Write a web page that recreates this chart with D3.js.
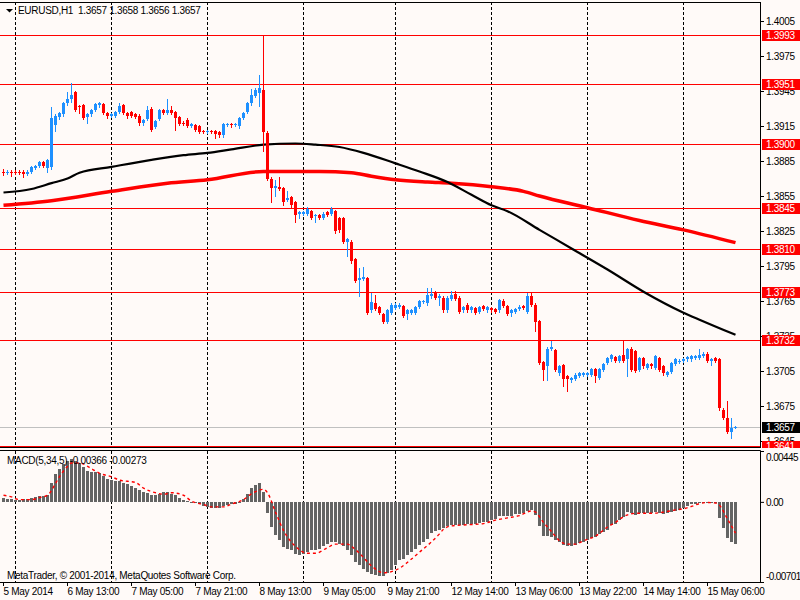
<!DOCTYPE html>
<html>
<head>
<meta charset="utf-8">
<script src="https://cdn.jsdelivr.net/npm/d3@7"></script>
<style>
  html, body { margin: 0; padding: 0; background: #fffaf8; }
  svg { display: block; }
  text { letter-spacing: -0.3px; }
</style>
</head>
<body>
<svg id="chart" width="800" height="600"></svg>
<script>
// ---- texts ----
const symbolTitle = "EURUSD,H1  1.3657 1.3658 1.3656 1.3657";
const macdTitle = "MACD(5,34,5) -0.00366 -0.00273";
const copyright = "MetaTrader, \u00a9 2001-2014, MetaQuotes Software Corp.";

// ---- candles, one entry per H1 bar (5 May 21:00 .. 15 May 13:00) ----
const open = [
  1.3876,1.3875,1.3876,1.3876,1.3876,1.3876,1.3874,1.3876,1.3879,1.3881,1.3884,1.3879,
  1.3880,1.3916,1.3923,1.3925,1.3935,1.3938,1.3944,1.3932,1.3933,1.3923,1.3925,1.3929,
  1.3933,1.3934,1.3926,1.3924,1.3924,1.3927,1.3933,1.3926,1.3927,1.3925,1.3924,1.3918,
  1.3921,1.3930,1.3914,1.3921,1.3929,1.3926,1.3929,1.3927,1.3923,1.3918,1.3920,1.3915,
  1.3916,1.3915,1.3911,1.3910,1.3911,1.3911,1.3910,1.3907,1.3916,1.3917,1.3916,1.3915,
  1.3922,1.3927,1.3935,1.3941,1.3943,1.3946,1.3909,1.3870,1.3862,1.3863,1.3862,1.3852,
  1.3854,1.3850,1.3840,1.3840,1.3840,1.3842,1.3838,1.3839,1.3836,1.3841,1.3840,1.3842,
  1.3836,1.3836,1.3816,1.3816,1.3801,1.3783,1.3784,1.3785,1.3757,1.3763,1.3760,1.3754,
  1.3747,1.3755,1.3759,1.3760,1.3761,1.3754,1.3755,1.3755,1.3760,1.3764,1.3763,1.3769,
  1.3773,1.3768,1.3768,1.3757,1.3767,1.3771,1.3768,1.3757,1.3762,1.3757,1.3759,1.3756,
  1.3761,1.3757,1.3759,1.3758,1.3757,1.3765,1.3761,1.3755,1.3756,1.3758,1.3761,1.3756,
  1.3769,1.3762,1.3748,1.3713,1.3709,1.3724,1.3723,1.3703,1.3710,1.3701,1.3697,1.3698,
  1.3701,1.3702,1.3702,1.3702,1.3707,1.3699,1.3706,1.3712,1.3715,1.3717,1.3714,1.3719,
  1.3715,1.3724,1.3722,1.3706,1.3716,1.3708,1.3711,1.3708,1.3716,1.3709,1.3702,1.3704,
  1.3711,1.3713,1.3714,1.3715,1.3715,1.3716,1.3716,1.3718,1.3720,1.3714,1.3716,1.3715,
  1.3672,1.3665,1.3653,1.3657
];
const high = [
  1.3878,1.3877,1.3877,1.3877,1.3877,1.3877,1.3877,1.3881,1.3882,1.3885,1.3885,1.3887,
  1.3931,1.3925,1.3927,1.3936,1.3944,1.3952,1.3945,1.3933,1.3934,1.3926,1.3930,1.3935,
  1.3936,1.3935,1.3927,1.3926,1.3928,1.3935,1.3934,1.3927,1.3928,1.3926,1.3925,1.3921,
  1.3932,1.3931,1.3920,1.3930,1.3930,1.3938,1.3932,1.3928,1.3924,1.3919,1.3922,1.3918,
  1.3917,1.3916,1.3912,1.3912,1.3912,1.3912,1.3911,1.3918,1.3918,1.3918,1.3918,1.3923,
  1.3927,1.3936,1.3947,1.3948,1.3959,1.3993,1.3911,1.3871,1.3869,1.3871,1.3863,1.3859,
  1.3855,1.3851,1.3842,1.3842,1.3846,1.3843,1.3840,1.3840,1.3841,1.3842,1.3846,1.3843,
  1.3837,1.3837,1.3819,1.3817,1.3802,1.3793,1.3794,1.3786,1.3772,1.3770,1.3761,1.3755,
  1.3758,1.3763,1.3763,1.3763,1.3762,1.3758,1.3758,1.3761,1.3766,1.3766,1.3776,1.3776,
  1.3774,1.3771,1.3769,1.3769,1.3774,1.3774,1.3769,1.3761,1.3763,1.3761,1.3760,1.3761,
  1.3762,1.3761,1.3760,1.3759,1.3767,1.3767,1.3762,1.3758,1.3759,1.3762,1.3762,1.3772,
  1.3772,1.3763,1.3749,1.3714,1.3726,1.3731,1.3724,1.3710,1.3711,1.3702,1.3700,1.3703,
  1.3704,1.3704,1.3704,1.3708,1.3708,1.3708,1.3712,1.3717,1.3720,1.3718,1.3719,1.3732,
  1.3725,1.3726,1.3723,1.3717,1.3717,1.3712,1.3712,1.3719,1.3717,1.3710,1.3705,1.3713,
  1.3716,1.3715,1.3716,1.3718,1.3719,1.3719,1.3724,1.3721,1.3721,1.3716,1.3717,1.3716,
  1.3673,1.3679,1.3665,1.3658
];
const low = [
  1.3873,1.3874,1.3872,1.3874,1.3874,1.3871,1.3873,1.3875,1.3878,1.3880,1.3880,1.3876,
  1.3878,1.3911,1.3921,1.3924,1.3933,1.3936,1.3928,1.3926,1.3921,1.3918,1.3924,1.3928,
  1.3931,1.3925,1.3922,1.3923,1.3923,1.3926,1.3925,1.3922,1.3923,1.3922,1.3916,1.3916,
  1.3920,1.3911,1.3913,1.3920,1.3925,1.3925,1.3925,1.3912,1.3916,1.3916,1.3914,1.3914,
  1.3911,1.3909,1.3909,1.3909,1.3909,1.3905,1.3906,1.3906,1.3915,1.3914,1.3915,1.3913,
  1.3921,1.3926,1.3933,1.3940,1.3932,1.3894,1.3869,1.3850,1.3855,1.3860,1.3847,1.3851,
  1.3846,1.3833,1.3836,1.3839,1.3839,1.3835,1.3833,1.3835,1.3835,1.3838,1.3839,1.3823,
  1.3824,1.3815,1.3804,1.3798,1.3781,1.3769,1.3783,1.3754,1.3756,1.3757,1.3754,1.3746,
  1.3746,1.3754,1.3758,1.3759,1.3751,1.3750,1.3754,1.3754,1.3759,1.3763,1.3762,1.3768,
  1.3767,1.3762,1.3756,1.3756,1.3766,1.3766,1.3755,1.3756,1.3756,1.3756,1.3754,1.3755,
  1.3757,1.3756,1.3756,1.3755,1.3756,1.3760,1.3753,1.3752,1.3755,1.3757,1.3758,1.3755,
  1.3761,1.3739,1.3711,1.3697,1.3697,1.3723,1.3705,1.3702,1.3692,1.3688,1.3696,1.3697,
  1.3700,1.3701,1.3701,1.3701,1.3696,1.3698,1.3705,1.3711,1.3714,1.3713,1.3713,1.3713,
  1.3701,1.3705,1.3704,1.3705,1.3708,1.3707,1.3708,1.3707,1.3705,1.3702,1.3701,1.3703,
  1.3710,1.3712,1.3713,1.3714,1.3714,1.3715,1.3715,1.3717,1.3713,1.3710,1.3713,1.3672,
  1.3664,1.3652,1.3648,1.3656
];
const close = [
  1.3875,1.3876,1.3875,1.3875,1.3875,1.3874,1.3876,1.3880,1.3881,1.3884,1.3881,1.3886,
  1.3922,1.3924,1.3926,1.3935,1.3938,1.3942,1.3929,1.3931,1.3922,1.3925,1.3929,1.3934,
  1.3935,1.3926,1.3924,1.3925,1.3927,1.3932,1.3926,1.3924,1.3924,1.3923,1.3918,1.3920,
  1.3929,1.3912,1.3919,1.3929,1.3926,1.3929,1.3926,1.3922,1.3917,1.3917,1.3915,1.3917,
  1.3912,1.3910,1.3910,1.3911,1.3910,1.3908,1.3907,1.3917,1.3917,1.3916,1.3917,1.3922,
  1.3926,1.3935,1.3942,1.3946,1.3948,1.3910,1.3870,1.3862,1.3864,1.3861,1.3850,1.3853,
  1.3847,1.3839,1.3841,1.3841,1.3844,1.3836,1.3839,1.3836,1.3840,1.3839,1.3844,1.3825,
  1.3826,1.3816,1.3818,1.3799,1.3782,1.3785,1.3786,1.3755,1.3764,1.3758,1.3755,1.3747,
  1.3757,1.3762,1.3762,1.3762,1.3752,1.3757,1.3757,1.3760,1.3765,1.3765,1.3770,1.3771,
  1.3768,1.3769,1.3757,1.3768,1.3770,1.3767,1.3756,1.3760,1.3757,1.3760,1.3755,1.3760,
  1.3758,1.3760,1.3757,1.3756,1.3766,1.3761,1.3754,1.3757,1.3758,1.3760,1.3759,1.3769,
  1.3762,1.3747,1.3712,1.3706,1.3724,1.3726,1.3706,1.3709,1.3698,1.3698,1.3699,1.3702,
  1.3703,1.3703,1.3703,1.3707,1.3701,1.3707,1.3711,1.3716,1.3719,1.3714,1.3718,1.3714,
  1.3724,1.3706,1.3705,1.3716,1.3709,1.3711,1.3709,1.3718,1.3706,1.3703,1.3704,1.3712,
  1.3715,1.3714,1.3715,1.3717,1.3718,1.3718,1.3719,1.3720,1.3714,1.3715,1.3714,1.3673,
  1.3665,1.3653,1.3656,1.3657
];

// ---- moving averages, read at sample bars ----
const maBlackIdx = [0,7,12,16,19,27,37,45,51,57,65,73,78,84,90,98,104,111,117,122,126,134,142,151,160,170,174,183];
const maBlackVal = [1.3858,1.3861,1.3866,1.3870,1.3875,1.3880,1.3886,1.3890,1.3892,1.3895,1.3899,1.3900,1.3899,1.3897,
                    1.3892,1.3883,1.3876,1.3867,1.3856,1.3847,1.3842,1.3826,1.3810,1.3792,1.3773,1.3755,1.3749,1.3736];
const maRedIdx = [0,12,27,41,51,65,79,87,92,98,106,112,122,130,134,146,159,170,183];
const maRedVal = [1.3847,1.3851,1.3859,1.3866,1.3869,1.3876,1.3876,1.3875,1.3872,1.3869,1.3867,1.3866,1.3863,1.3859,
                  1.3855,1.3845,1.3834,1.3826,1.3815];

// ---- price levels ----
const levels = [1.3993, 1.3951, 1.3900, 1.3845, 1.3810, 1.3773, 1.3732, 1.3641];
const lastPrice = 1.3657;
const priceTicks = [1.4005,1.3975,1.3945,1.3915,1.3885,1.3855,1.3825,1.3795,1.3765,1.3735,1.3705,1.3675,1.3645];

// ---- MACD(5,34,5) ----
const macdHist = [
  0.00038,0.00029,0.00023,0.00020,0.00020,0.00023,0.00026,0.00035,0.00044,0.00050,0.00050,0.00058,
  0.00169,0.00248,0.00286,0.00330,0.00359,0.00371,0.00359,0.00342,0.00307,0.00272,0.00263,0.00263,
  0.00254,0.00225,0.00204,0.00190,0.00184,0.00184,0.00169,0.00155,0.00137,0.00123,0.00102,0.00088,
  0.00079,0.00058,0.00058,0.00073,0.00082,0.00082,0.00073,0.00058,0.00038,0.00020,0.00009,0.00003,
  -0.00006,-0.00020,-0.00032,-0.00044,-0.00053,-0.00058,-0.00053,-0.00038,-0.00029,-0.00023,-0.00020,-0.00009,
  0.00023,0.00073,0.00117,0.00146,0.00169,0.00088,-0.00096,-0.00219,-0.00292,-0.00336,-0.00394,-0.00409,
  -0.00423,-0.00453,-0.00467,-0.00453,-0.00438,-0.00423,-0.00418,-0.00409,-0.00388,-0.00371,-0.00350,-0.00350,
  -0.00365,-0.00388,-0.00423,-0.00467,-0.00526,-0.00555,-0.00584,-0.00613,-0.00628,-0.00637,-0.00650,-0.00650,
  -0.00622,-0.00599,-0.00555,-0.00505,-0.00496,-0.00467,-0.00438,-0.00409,-0.00380,-0.00350,-0.00321,-0.00272,
  -0.00254,-0.00242,-0.00225,-0.00213,-0.00204,-0.00204,-0.00199,-0.00199,-0.00196,-0.00196,-0.00190,-0.00184,
  -0.00178,-0.00175,-0.00161,-0.00152,-0.00120,-0.00126,-0.00126,-0.00120,-0.00108,-0.00102,-0.00096,-0.00079,
  -0.00067,-0.00117,-0.00213,-0.00301,-0.00301,-0.00307,-0.00336,-0.00350,-0.00380,-0.00388,-0.00388,-0.00380,
  -0.00359,-0.00350,-0.00336,-0.00315,-0.00307,-0.00283,-0.00263,-0.00242,-0.00204,-0.00190,-0.00161,-0.00131,
  -0.00088,-0.00096,-0.00111,-0.00096,-0.00096,-0.00096,-0.00096,-0.00088,-0.00096,-0.00108,-0.00096,-0.00088,
  -0.00079,-0.00067,-0.00058,-0.00035,-0.00023,-0.00015,-0.00003,0.00001,-0.00001,-0.00003,-0.00009,-0.00140,
  -0.00228,-0.00312,-0.00350,-0.00366
];
const signalIdx = [0,2,4,7,9,11,13,14,16,17,19,22,24,27,29,33,35,38,40,42,45,47,50,52,55,57,60,62,65,66,68,70,73,76,78,
                   81,83,86,87,89,92,95,97,99,102,104,107,109,110,112,116,120,123,126,129,132,133,135,137,139,141,143,145,
                   148,151,153,155,158,162,165,168,170,172,174,176,178,179,181,183];
const signalVal = [0.00058,0.00044,0.00020,0.00020,0.00038,0.00058,0.00160,0.00220,0.00310,0.00340,0.00340,0.00290,0.00250,
                   0.00220,0.00190,0.00170,0.00120,0.00080,0.00067,0.00080,0.00058,0.00006,-0.00023,-0.00044,-0.00044,-0.00020,
                   0.00020,0.00070,0.00110,0.00080,-0.00090,-0.00250,-0.00390,-0.00450,-0.00450,-0.00400,-0.00370,-0.00370,
                   -0.00390,-0.00450,-0.00560,-0.00620,-0.00610,-0.00580,-0.00500,-0.00440,-0.00350,-0.00280,-0.00240,-0.00210,
                   -0.00200,-0.00190,-0.00160,-0.00140,-0.00120,-0.00080,-0.00090,-0.00180,-0.00260,-0.00340,-0.00370,-0.00370,
                   -0.00340,-0.00300,-0.00220,-0.00180,-0.00130,-0.00100,-0.00100,-0.00090,-0.00070,-0.00060,-0.00040,-0.00015,
                   -0.00006,-0.00010,-0.00030,-0.00150,-0.00273];
const macdTicks = [0.00445, 0, -0.00701];

// ---- time axis ----
const dayStartIdx = [3, 27, 51, 75, 98, 122, 146, 170];
const timeTickIdx = [0, 16, 32, 48, 64, 80, 96, 112, 128, 144, 160, 176];
const timeTickLabels = ["5 May 2014", "6 May 13:00", "7 May 05:00", "7 May 21:00", "8 May 13:00", "9 May 05:00",
                        "9 May 21:00", "12 May 14:00", "13 May 06:00", "13 May 22:00", "14 May 14:00", "15 May 06:00"];

// ---- layout ----
const FONT = "Liberation Sans, Arial, sans-serif";
const BG = "#fffaf8";
const BULL = "#1e90ff";
const BEAR = "#ff0000";
const AXIS_X = 760;
const MAIN_TOP = 2, MAIN_BOTTOM = 448;
const MACD_TOP = 451, MACD_BOTTOM = 582;

const xScale = d3.scaleLinear().domain([0, 183]).range([3, 735]);
const yPrice = d3.scaleLinear().domain([1.3639, 1.40213]).range([MAIN_BOTTOM, MAIN_TOP]);
const yMacd = d3.scaleLinear().domain([-0.00701, 0.00445]).range([MACD_BOTTOM, MACD_TOP]);

const px = (i) => Math.round(xScale(i));
const py = (p) => Math.round(yPrice(p));

const svg = d3.select("#chart")
    .attr("font-family", FONT)
    .attr("font-size", 10);

svg.append("rect").attr("width", 800).attr("height", 600).attr("fill", BG);

const defs = svg.append("defs");
defs.append("clipPath").attr("id", "clip-main").append("rect")
    .attr("x", 0).attr("y", MAIN_TOP).attr("width", AXIS_X).attr("height", MAIN_BOTTOM - MAIN_TOP);
defs.append("clipPath").attr("id", "clip-main-axis").append("rect")
    .attr("x", AXIS_X).attr("y", MAIN_TOP).attr("width", 40).attr("height", MAIN_BOTTOM - MAIN_TOP);
defs.append("clipPath").attr("id", "clip-macd").append("rect")
    .attr("x", 0).attr("y", MACD_TOP).attr("width", AXIS_X).attr("height", MACD_BOTTOM - MACD_TOP);

// ================= main panel =================
const main = svg.append("g").attr("clip-path", "url(#clip-main)");

main.append("g").selectAll("line")
    .data(dayStartIdx)
    .join("line")
    .attr("x1", (d) => px(d) + 0.5)
    .attr("x2", (d) => px(d) + 0.5)
    .attr("y1", MAIN_TOP)
    .attr("y2", MAIN_BOTTOM)
    .attr("stroke", "#000")
    .attr("stroke-dasharray", "3,2");

main.append("line")
    .attr("x1", 0).attr("x2", AXIS_X)
    .attr("y1", py(lastPrice) + 0.5).attr("y2", py(lastPrice) + 0.5)
    .attr("stroke", "#c0c0c0");

main.append("g").selectAll("line")
    .data(levels)
    .join("line")
    .attr("x1", 0).attr("x2", AXIS_X)
    .attr("y1", (d) => py(d) + 0.5)
    .attr("y2", (d) => py(d) + 0.5)
    .attr("stroke", "#ff0000");

const maLine = d3.line()
    .x((d) => xScale(d[0]) + 0.5)
    .y((d) => yPrice(d[1]))
    .curve(d3.curveMonotoneX);

main.append("path")
    .datum(d3.zip(maRedIdx, maRedVal))
    .attr("d", maLine)
    .attr("fill", "none")
    .attr("stroke", "#ff0000")
    .attr("stroke-width", 3.5);

main.append("path")
    .datum(d3.zip(maBlackIdx, maBlackVal))
    .attr("d", maLine)
    .attr("fill", "none")
    .attr("stroke", "#000")
    .attr("stroke-width", 2.2);

const candles = main.append("g").selectAll("g")
    .data(d3.range(open.length))
    .join("g")
    .attr("fill", (i) => close[i] >= open[i] ? BULL : BEAR);

candles.append("rect")
    .attr("x", (i) => px(i))
    .attr("y", (i) => py(high[i]))
    .attr("width", 1)
    .attr("height", (i) => py(low[i]) - py(high[i]) + 1);

candles.append("rect")
    .attr("x", (i) => px(i) - 1)
    .attr("y", (i) => py(Math.max(open[i], close[i])))
    .attr("width", 3)
    .attr("height", (i) => Math.max(1, py(Math.min(open[i], close[i])) - py(Math.max(open[i], close[i]))));

// title
svg.append("path")
    .attr("d", "M6,9 L13,9 L9.5,12.5 Z")
    .attr("fill", "#000");
svg.append("text")
    .attr("x", 18).attr("y", 14)
    .style("white-space", "pre")
    .attr("fill", "#000")
    .text(symbolTitle);

// price axis
const priceAxis = svg.append("g")
    .attr("transform", `translate(${AXIS_X},0)`)
    .call(d3.axisRight(yPrice).tickValues(priceTicks).tickSize(4).tickPadding(2).tickFormat(d3.format(".4f")));
priceAxis.attr("font-family", FONT).attr("font-size", 10);
priceAxis.select(".domain").remove();

const levelTags = svg.append("g")
    .attr("clip-path", "url(#clip-main-axis)")
    .selectAll("g")
    .data(levels.map((d) => ({ value: d, color: "#ff0000" })).concat([{ value: lastPrice, color: "#000" }]))
    .join("g")
    .attr("transform", (d) => `translate(${AXIS_X + 2},${py(d.value)})`);
levelTags.append("rect")
    .attr("x", 0).attr("y", -5)
    .attr("width", 38).attr("height", 11)
    .attr("fill", (d) => d.color);
levelTags.append("text")
    .attr("x", 4).attr("y", 0.5)
    .attr("dy", "0.34em")
    .attr("fill", "#fff")
    .text((d) => d3.format(".4f")(d.value));

// ================= MACD panel =================
const macd = svg.append("g").attr("clip-path", "url(#clip-macd)");

macd.append("g").selectAll("line")
    .data(dayStartIdx)
    .join("line")
    .attr("x1", (d) => px(d) + 0.5)
    .attr("x2", (d) => px(d) + 0.5)
    .attr("y1", MACD_TOP)
    .attr("y2", MACD_BOTTOM)
    .attr("stroke", "#000")
    .attr("stroke-dasharray", "3,2");

const zeroY = Math.round(yMacd(0));
macd.append("g").selectAll("rect")
    .data(macdHist)
    .join("rect")
    .attr("x", (d, i) => px(i) - 1)
    .attr("width", 3)
    .attr("y", (d) => d >= 0 ? Math.round(yMacd(d)) : zeroY)
    .attr("height", (d) => Math.max(1, Math.abs(Math.round(yMacd(d)) - zeroY)))
    .attr("fill", "#646464");

macd.append("path")
    .datum(d3.zip(signalIdx, signalVal))
    .attr("d", d3.line()
        .x((d) => xScale(d[0]) + 0.5)
        .y((d) => yMacd(d[1]))
        .curve(d3.curveMonotoneX))
    .attr("fill", "none")
    .attr("stroke", "#ff0000")
    .attr("stroke-width", 1.4)
    .attr("stroke-dasharray", "3,3");

svg.append("text")
    .attr("x", 7).attr("y", 464)
    .attr("fill", "#000")
    .text(macdTitle);
svg.append("text")
    .attr("x", 7).attr("y", 579)
    .attr("fill", "#000")
    .text(copyright);

const macdAxis = svg.append("g")
    .attr("transform", `translate(${AXIS_X},0)`)
    .call(d3.axisRight(yMacd).tickValues(macdTicks).tickSize(4).tickPadding(2)
        .tickFormat((d) => d === 0 ? "0.00" : d.toFixed(5)));
macdAxis.attr("font-family", FONT).attr("font-size", 10);
macdAxis.select(".domain").remove();
macdAxis.selectAll("text")
    .style("letter-spacing", "-0.6px")
    .attr("y", (d) => d > 0 ? 6 : d < 0 ? -6 : 0);

// ================= time axis =================
const timeAxis = svg.append("g")
    .attr("transform", `translate(0,${MACD_BOTTOM})`)
    .call(d3.axisBottom(xScale).tickValues(timeTickIdx).tickSize(4).tickFormat((d, i) => timeTickLabels[i]));
timeAxis.attr("font-family", FONT).attr("font-size", 10);
timeAxis.select(".domain").remove();
timeAxis.selectAll("text")
    .attr("text-anchor", "start")
    .attr("x", 0)
    .attr("y", 6);

// ================= frames =================
const frame = svg.append("g").attr("stroke", "#000").attr("fill", "none");
frame.append("line").attr("x1", 0).attr("x2", AXIS_X + 0.5).attr("y1", MAIN_TOP + 0.5).attr("y2", MAIN_TOP + 0.5);
frame.append("line").attr("x1", 0).attr("x2", AXIS_X + 0.5).attr("y1", MAIN_BOTTOM - 0.5).attr("y2", MAIN_BOTTOM - 0.5);
frame.append("line").attr("x1", 0).attr("x2", AXIS_X + 0.5).attr("y1", MACD_TOP - 0.5).attr("y2", MACD_TOP - 0.5);
frame.append("line").attr("x1", 0).attr("x2", AXIS_X + 0.5).attr("y1", MACD_BOTTOM + 0.5).attr("y2", MACD_BOTTOM + 0.5);
frame.append("line").attr("x1", AXIS_X + 0.5).attr("x2", AXIS_X + 0.5).attr("y1", MAIN_TOP).attr("y2", MAIN_BOTTOM);
frame.append("line").attr("x1", AXIS_X + 0.5).attr("x2", AXIS_X + 0.5).attr("y1", MACD_TOP - 0.5).attr("y2", MACD_BOTTOM + 0.5);
</script>
</body>
</html>
